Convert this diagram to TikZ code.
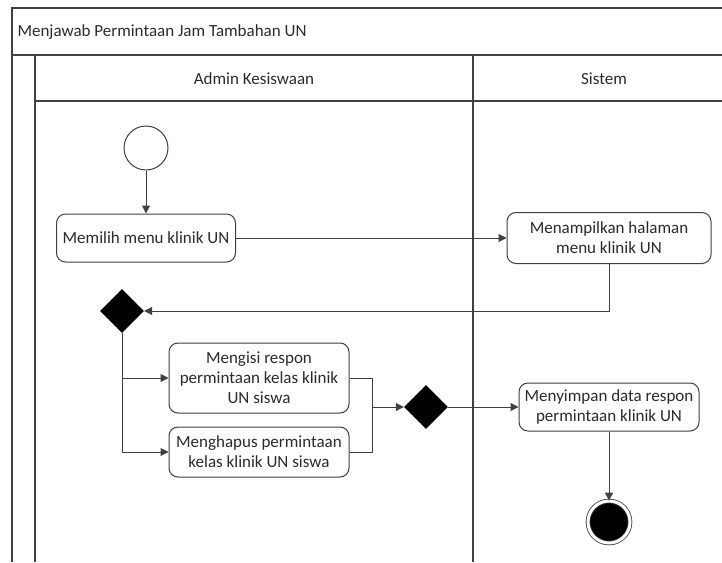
\documentclass[tikz,border=0pt]{standalone}
\usepackage{fontspec}
\setmainfont{Carlito}
\usetikzlibrary{shapes.geometric, arrows.meta, calc}
\usetikzlibrary{positioning}
\definecolor{linegray}{HTML}{404040}
\definecolor{textgray}{HTML}{2B2B2B}
\tikzset{activity/.style={
        rounded corners=9pt, draw=linegray, fill=white, line width=1pt,
        align=center, inner sep=2pt, text=textgray,
        font=\fontsize{17}{20}\selectfont
    },
    decision/.style={diamond, fill=black, inner sep=0pt, minimum width=44pt, minimum height=44pt},
    flow/.style={-{Triangle[length=8pt,width=8pt]}, draw=linegray, line width=1pt},
    lane/.style={draw=linegray, line width=1.3pt},
    lanelabel/.style={text=textgray, font=\fontsize{17}{20}\selectfont}
}

\begin{document}
\begin{tikzpicture}[x=1pt, y=-1pt]

\useasboundingbox (0,0) rectangle (722,562);

% swimlane frame
\draw[lane] (722,8) -- (12,8) -- (12,562);
\draw[lane] (12,55) -- (722,55);
\draw[lane] (35,55) -- (35,562);
\draw[lane] (35,101) -- (722,101);
\draw[lane] (473,55) -- (473,562);

\node[lanelabel, anchor=west] (title) at (14,32) {Menjawab Permintaan Jam Tambahan UN};
\node[lanelabel] (admin) at (254,79) {Admin Kesiswaan};
\node[lanelabel] (sistem) at (604,79) {Sistem};

% activities
\node[circle, draw=linegray, fill=white, line width=1pt, minimum size=44pt] (start) at (146,148) {};
\node[activity, minimum width=179pt, minimum height=48pt] (memilih) at (146,238) {Memilih menu klinik UN};
\node[activity, minimum width=204pt, minimum height=51pt] (menampilkan) at (609,238) {Menampilkan halaman\\menu klinik UN};
\node[decision] (dec1) at (122,311) {};
\node[activity, minimum width=180pt, minimum height=70pt] (mengisi) at (259,378) {Mengisi respon\\permintaan kelas klinik\\UN siswa};
\node[activity, minimum width=180pt, minimum height=50pt] (menghapus) at (259,452) {Menghapus permintaan\\kelas klinik UN siswa};
\node[decision] (dec2) at (426,407) {};
\node[activity, minimum width=180pt, minimum height=48pt] (menyimpan) at (609,407) {Menyimpan data respon\\permintaan klinik UN};
\node[circle, fill=black, draw=linegray, line width=0.8pt, double=white, double distance=3pt, minimum size=42pt] (end) at (609,522) {};

\coordinate (merge) at ($(dec2.west)+(-31,0)$);

% flows
\draw[flow] (start) -- (memilih);
\draw[flow] (memilih) -- (menampilkan);
\draw[flow] (menampilkan.south) |- (dec1.east);
\draw[flow] (dec1.south) |- (mengisi.west);
\draw[flow] (dec1.south) |- (menghapus.west);
\draw[draw=linegray, line width=1pt] (mengisi.east) -| (merge);
\draw[draw=linegray, line width=1pt] (menghapus.east) -| (merge);
\draw[flow] (merge) -- (dec2.west);
\draw[flow] (dec2.east) -- (menyimpan.west);
\draw[flow] (menyimpan) -- (end);

\end{tikzpicture}
\end{document}
